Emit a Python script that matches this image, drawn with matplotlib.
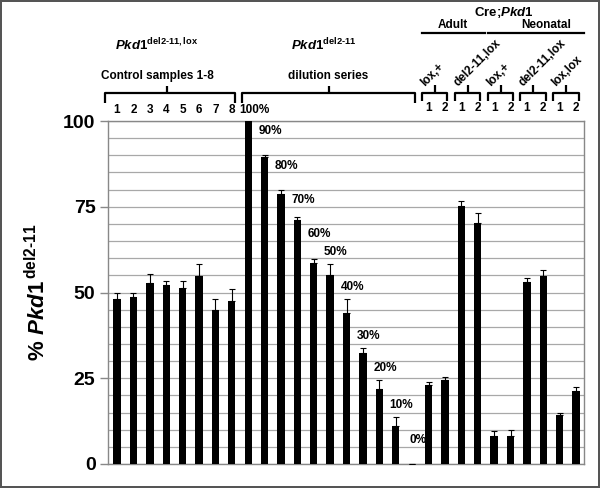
import matplotlib
matplotlib.use("Agg")
import matplotlib.pyplot as plt
import matplotlib.transforms as mtransforms
import numpy as np

plt.rcParams['font.family'] = ['Liberation Sans', 'DejaVu Sans']
plt.rcParams['font.weight'] = 'bold'
plt.rcParams['mathtext.fontset'] = 'custom'
plt.rcParams['mathtext.rm'] = 'Liberation Sans:bold'
plt.rcParams['mathtext.it'] = 'Liberation Sans:bold:italic'
plt.rcParams['mathtext.bf'] = 'Liberation Sans:bold'

# ---- data ----
control_labels = ["1", "2", "3", "4", "5", "6", "7", "8"]
control_values = [48.0, 48.8, 52.9, 52.1, 51.2, 54.9, 44.9, 47.4]
control_err = [2.0, 1.2, 2.5, 1.3, 2.1, 3.4, 3.1, 3.5]

dilution_labels = ["100%", "90%", "80%", "70%", "60%", "50%", "40%", "30%", "20%", "10%", "0%"]
dilution_nominal = [100, 90, 80, 70, 60, 50, 40, 30, 20, 10, 0]
dilution_values = [100.0, 89.4, 78.6, 71.1, 58.5, 55.1, 44.1, 32.3, 21.8, 11.1, 0.0]
dilution_err = [0.0, 0.7, 1.3, 0.8, 1.2, 3.2, 3.9, 1.4, 2.7, 2.5, 0.0]

group_names = ["lox,+", "del2-11,lox", "lox,+", "del2-11,lox", "lox,lox"]
group_stage = ["Adult", "Adult", "Neonatal", "Neonatal", "Neonatal"]
group_values = [[23.0, 24.5], [75.2, 70.2], [8.2, 8.3], [53.1, 54.8], [14.3, 21.3]]
group_err = [[0.8, 1.0], [1.5, 2.9], [1.5, 1.6], [1.0, 1.7], [0.5, 1.1]]
rep_labels = ["1", "2"]

yticks = [0, 25, 50, 75, 100]

# ---- assemble ----
values = control_values + dilution_values + [v for g in group_values for v in g]
errs = control_err + dilution_err + [e for g in group_err for e in g]
n = len(values)
x = np.arange(n)

W, H = 600, 488
fig = plt.figure(figsize=(W / 100, H / 100), dpi=100)
fig.patch.set_facecolor('white')
fig.patch.set_edgecolor('#555555')
fig.patch.set_linewidth(1.5)

ax = fig.add_axes([108 / W, 1 - 464 / H, (584 - 108) / W, (464 - 121) / H])
ax.set_xlim(-0.55, n - 0.52)
ax.set_ylim(0, 100)

ax.bar(x, values, width=0.45, color='black', zorder=3)
ax.errorbar(x, values, yerr=[np.zeros(n), errs], fmt='none', ecolor='black',
            elinewidth=0.8, capsize=2, capthick=0.8, zorder=4)

ax.set_yticks(yticks)
ax.set_yticklabels([str(t) for t in yticks], fontsize=14, fontweight='bold')
for g in range(0, 101, 5):
    ax.axhline(g, color='#a8a8a8', lw=0.9, zorder=1)
ax.set_xticks([])
ax.tick_params(axis='y', length=6, color='#888888', width=1, pad=3)
for s in ax.spines.values():
    s.set_color('#888888')
    s.set_linewidth(1)

ax.set_ylabel(r"$\%\ \mathit{Pkd1}^{\,\mathrm{del2\text{-}11}}$", fontsize=16, labelpad=9)

# blended transform: x in data, y in figure pixels from top
tr = mtransforms.blended_transform_factory(ax.transData, fig.transFigure)
def fy(py):
    return 1 - py / H

# sample number labels
for i, lab in enumerate(control_labels):
    ax.text(x[i], fy(110), lab, transform=tr, ha='center', va='center', fontsize=8.5)
nc = len(control_values)
nd = len(dilution_values)
ax.text(x[nc] + 0.35, fy(110), dilution_labels[0], transform=tr, ha='center', va='center', fontsize=8.5)

# dilution percentage labels
for k in range(1, nd):
    i = nc + k
    ly = max(dilution_nominal[k] + 7, values[i] + errs[i] + 3.6)
    ax.text(x[i] + 0.35, ly, dilution_labels[k], ha='center', va='center', fontsize=8.5, zorder=5)

def bracket(x0, x1, xc, ytop=93, ybot=103, ytick=86):
    kw = dict(transform=tr, color='black', lw=1.6, clip_on=False, solid_capstyle='butt')
    ax.plot([x0, x0, x1, x1], [fy(ybot), fy(ytop), fy(ytop), fy(ybot)], **kw)
    ax.plot([xc, xc], [fy(ytop), fy(ytick)], **kw)

# control bracket
bracket(-0.73, nc - 1 + 0.2, (nc - 1) / 2.0 - 0.45)
ax.text(2.44, fy(76), "Control samples 1-8", transform=tr,
        ha='center', va='center', fontsize=8.5)
ax.text(2.44, fy(45), r"$\mathit{Pkd1}^{\mathrm{del2\text{-}11,lox}}$", transform=tr,
        ha='center', va='center', fontsize=9.5)

# dilution bracket
d0, d1 = nc, nc + nd - 1
bracket(d0 - 0.4, d1 + 0.2, (d0 + d1) / 2.0 - 0.1)
ax.text((d0 + d1) / 2.0 - 0.15, fy(76), "dilution series", transform=tr,
        ha='center', va='center', fontsize=8.5)
ax.text((d0 + d1) / 2.0 - 0.4, fy(45), r"$\mathit{Pkd1}^{\mathrm{del2\text{-}11}}$", transform=tr,
        ha='center', va='center', fontsize=9.5)

# genotype groups
start = nc + nd
for gi, name in enumerate(group_names):
    i0 = start + 2 * gi
    i1 = i0 + 1
    xc = (i0 + i1) / 2.0
    bracket(i0 - 0.4, i1 + 0.15, xc - 0.1, ytop=93, ybot=101, ytick=85)
    for j, lab in enumerate(rep_labels):
        ax.text(x[i0 + j], fy(108), lab, transform=tr, ha='center', va='center', fontsize=8.5)
    ax.text(xc - 0.72, fy(87), name, transform=tr, rotation=45, rotation_mode='anchor',
            ha='left', va='baseline', fontsize=8.5)

# Adult / Neonatal headers
stages = []
for gi, st in enumerate(group_stage):
    if not stages or stages[-1][0] != st:
        stages.append([st, start + 2 * gi, start + 2 * gi + 1])
    else:
        stages[-1][2] = start + 2 * gi + 1
for si, (st, a, b) in enumerate(stages):
    ax.plot([a - 0.4, b + 0.45], [fy(33), fy(33)], transform=tr, color='black', lw=1.6, clip_on=False)
    shift = 0.0 if si == 0 else 0.7
    ax.text((a + b) / 2.0 + shift, fy(25.5), st, transform=tr, ha='center', va='center', fontsize=8.5)

ax.text((start + n - 1) / 2.0 + 0.1, fy(12), r"$\text{Cre;}\mathit{Pkd1}$", transform=tr,
        ha='center', va='center', fontsize=9.5)

fig.savefig("out.png", dpi=100, facecolor=fig.get_facecolor(), edgecolor=fig.get_edgecolor())
